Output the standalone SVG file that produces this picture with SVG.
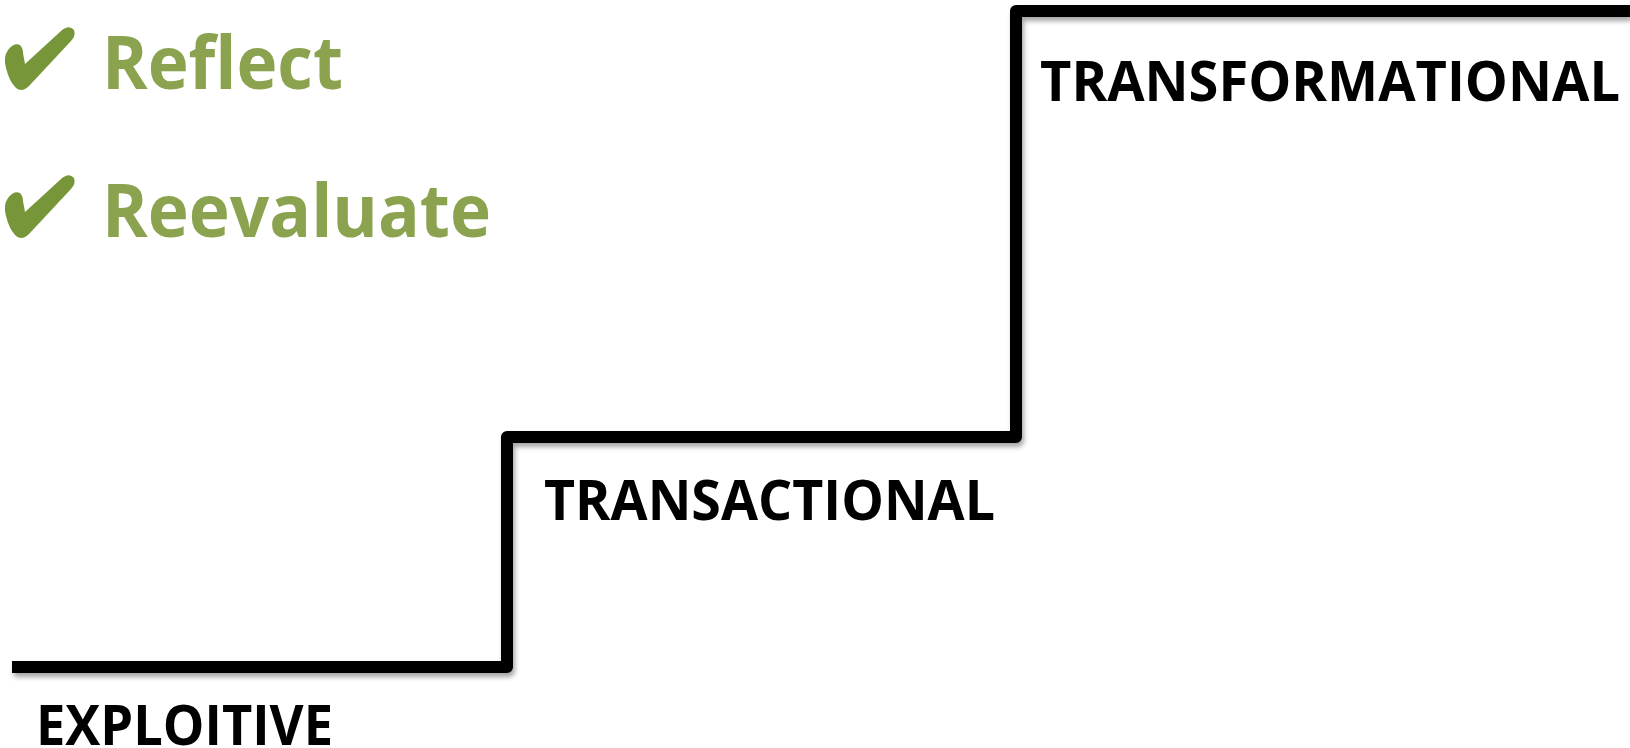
<svg xmlns="http://www.w3.org/2000/svg" width="1630" height="748" viewBox="0 0 1630 748">
  <defs>
    <filter id="shadow" x="-5%" y="-5%" width="110%" height="110%">
      <feDropShadow dx="2" dy="4" stdDeviation="2.5" flood-color="#000" flood-opacity="0.35"/>
    </filter>
    <path id="check" d="M8,50 Q14,42 20,45 Q23,48 23,53 L25,64 L61,31 Q69,24 74,30 Q76,36 71,41 L29,86 Q22,93 16,88 Q9,81 6,68 Q3,57 8,50 Z"/>
  </defs>
  <style>
    .step { fill: none; stroke: #000; stroke-width: 12; stroke-linejoin: round; stroke-linecap: butt; }
    .label { font-family: "Open Sans", Lato, "Liberation Sans", sans-serif; font-weight: bold; font-size: 56px; fill: #000; }
    .item { font-family: "Open Sans", Lato, "Liberation Sans", sans-serif; font-weight: bold; font-size: 73px; fill: #8BA34F; }
    .tick { fill: #77963A; }
  </style>
  <rect width="1630" height="748" fill="#fff"/>
  <g id="connectors" filter="url(#shadow)">
    <path class="step" d="M12,667 L507,667 L507,437 L1016,437 L1016,11 L1630,11"/>
  </g>
  <g id="exploitive">
    <text class="label" x="36" y="745" textLength="297" lengthAdjust="spacingAndGlyphs">EXPLOITIVE</text>
  </g>
  <g id="transactional">
    <text class="label" x="544" y="520" textLength="451" lengthAdjust="spacingAndGlyphs">TRANSACTIONAL</text>
  </g>
  <g id="transformational">
    <text class="label" x="1040" y="101" textLength="580" lengthAdjust="spacingAndGlyphs">TRANSFORMATIONAL</text>
  </g>
  <g id="reflect">
    <use href="#check" class="tick" x="0" y="0"/>
    <text class="item" x="102" y="89" textLength="241" lengthAdjust="spacingAndGlyphs">Reflect</text>
  </g>
  <g id="reevaluate">
    <use href="#check" class="tick" x="0" y="148"/>
    <text class="item" x="102" y="237" textLength="389" lengthAdjust="spacingAndGlyphs">Reevaluate</text>
  </g>
</svg>
